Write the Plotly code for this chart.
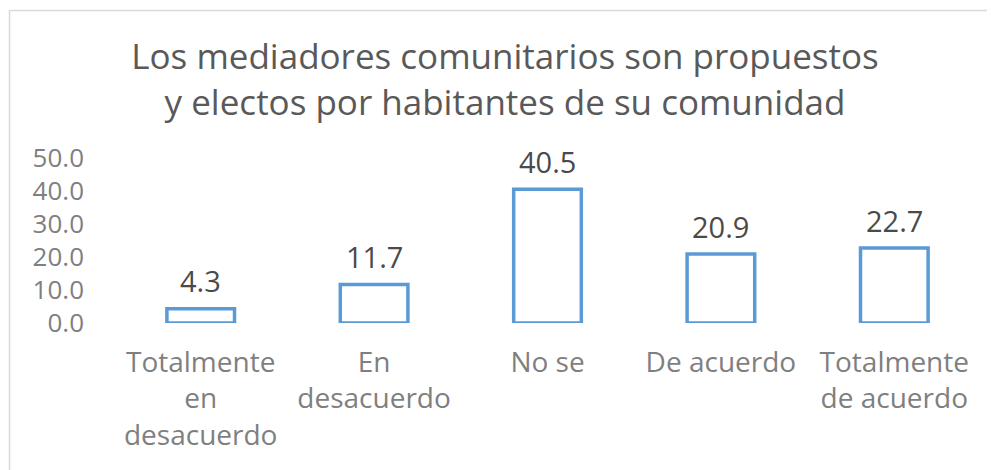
import plotly.graph_objects as go

categorias = ["Totalmente en desacuerdo", "En desacuerdo", "No se", "De acuerdo", "Totalmente de acuerdo"]
etiquetas = ["Totalmente<br>en<br>desacuerdo", "En<br>desacuerdo", "No se", "De acuerdo", "Totalmente<br>de acuerdo"]
porcentajes = [4.3, 11.7, 40.5, 20.9, 22.7]
ticks_y = [0, 10, 20, 30, 40, 50]

titulo = "Los mediadores comunitarios son propuestos<br>y electos por habitantes de su comunidad"

fuente = "Open Sans, Liberation Sans, sans-serif"

fig = go.Figure(data=go.Bar(
    x=categorias,
    y=porcentajes,
    width=0.39,
    marker=dict(color="white", line=dict(color="#5B9BD5", width=3.5)),
    hoverinfo="x+y",
))

# etiquetas de datos sobre las barras
for c, v in zip(categorias, porcentajes):
    fig.add_annotation(x=c, y=v, text=f"{v:.1f}", showarrow=False,
                       yanchor="middle", yshift=28,
                       font=dict(family=fuente, size=29, color="#4A4A4A"))

# borde del area del grafico
fig.add_shape(type="rect", xref="paper", yref="paper",
              x0=-0.1205, x1=1.1, y0=-1.0, y1=1.894,
              line=dict(color="#D9D9D9", width=1.5), layer="below")

fig.update_layout(
    width=995, height=470,
    margin=dict(l=106, r=22, t=150, b=155),
    paper_bgcolor="white", plot_bgcolor="white",
    showlegend=False,
    title=dict(text=titulo, x=0.4995, xanchor="center", xref="container",
               y=1 - 61 / 470, yanchor="middle", yref="container",
               font=dict(family=fuente, size=35, color="#595959")),
    xaxis=dict(tickvals=categorias, ticktext=etiquetas, showgrid=False,
               showline=False, zeroline=False, ticks="",
               ticklabelstandoff=20,
               tickfont=dict(family=fuente, size=28, color="#7F7F7F")),
    yaxis=dict(range=[0, 50], tickvals=ticks_y, tickformat=".1f",
               showgrid=False, showline=False, zeroline=False, ticks="",
               ticklabelstandoff=29,
               tickfont=dict(family=fuente, size=26, color="#7F7F7F")),
)

fig.write_html("out.html")
